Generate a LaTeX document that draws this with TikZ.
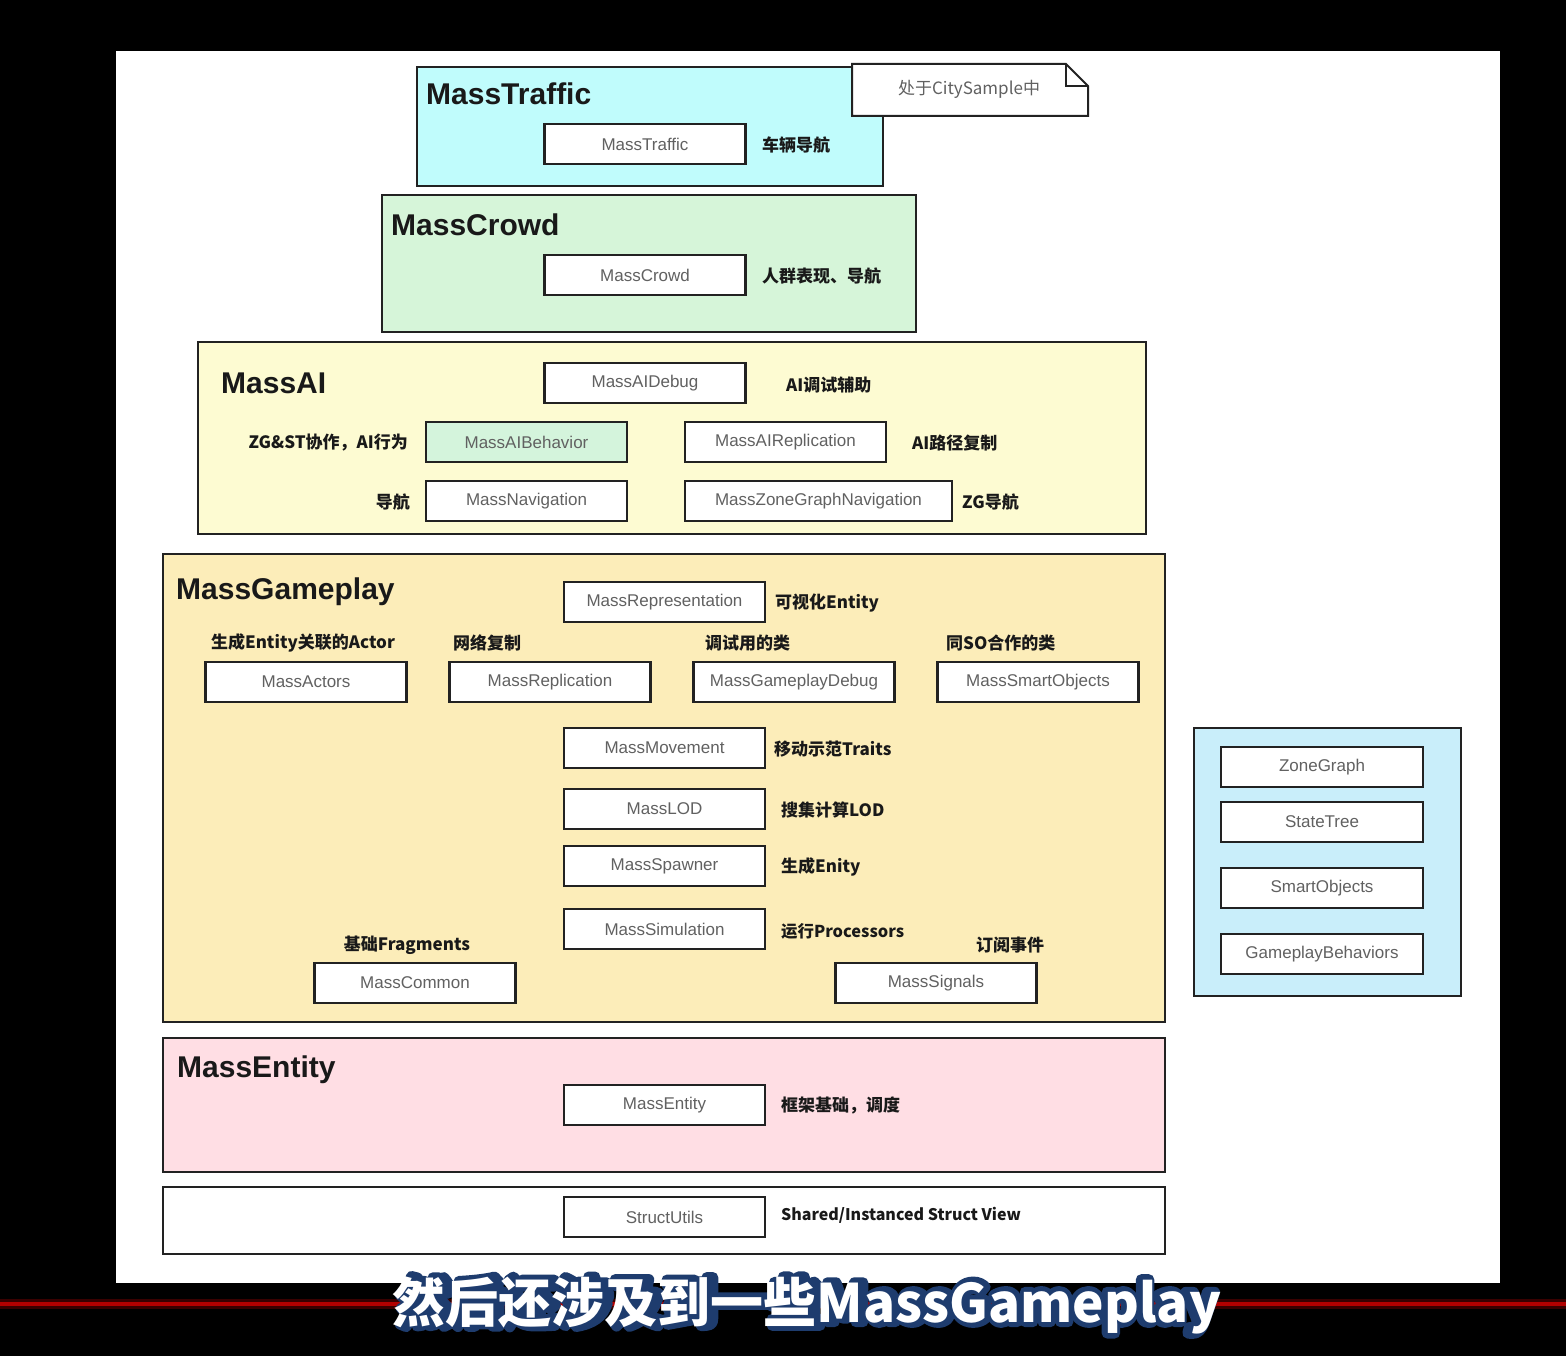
\documentclass[tikz,border=0pt]{standalone}
\usepackage{fontspec}
\setmainfont{Liberation Sans}
\newfontfamily\cjk{Noto Sans CJK SC}
\newfontfamily\subol{Noto Sans CJK SC}[UprightFont=* Bold, FakeBold=20]
\definecolor{cTraffic}{HTML}{C0FCFC}
\definecolor{cCrowd}{HTML}{D6F5D9}
\definecolor{cAI}{HTML}{FDFBD2}
\definecolor{cGameplay}{HTML}{FCEDB9}
\definecolor{cEntity}{HTML}{FFDEE4}
\definecolor{cRight}{HTML}{C9EEFA}
\definecolor{cBehav}{HTML}{D4F4DC}
\definecolor{subblue}{HTML}{1E3C6E}
\definecolor{edge}{HTML}{222222}
\begin{document}
\begin{tikzpicture}[x=1pt,y=-1pt]
\tikzset{
 grp/.style={draw=edge, line width=2pt, inner sep=0pt},
 modbox/.style={draw=edge, line width=2.2pt, fill=white, minimum width=201pt, minimum height=40pt, inner sep=0pt, text=black!62, font=\fontsize{17}{20}\selectfont},
 ttl/.style={anchor=west, inner sep=0pt, font=\fontsize{30}{36}\selectfont\bfseries, text=black!90},
 ann/.style={inner sep=0pt, font=\cjk\fontsize{17}{20}\selectfont\bfseries, text=black!90},
}
% background
\fill[black] (0,0) rectangle (1566,1356);
\fill[white] (116,51) rectangle (1500,1283);
\useasboundingbox (0,0) rectangle (1566,1356);

% ---------- MassTraffic ----------
\node[grp, fill=cTraffic, minimum width=466pt, minimum height=119pt] (gTraffic) at (650,126.5) {};
\node[ttl] (tTraffic) at (426,94) {MassTraffic};
\node[modbox] (mTraffic) at (645,144) {MassTraffic};
\node[ann, anchor=west] (aTraffic) at (762,145) {车辆导航};
% note
\draw[edge, line width=2pt, fill=white] (852,64) -- (1066,64) -- (1088,86) -- (1088,116) -- (852,116) -- cycle;
\draw[edge, line width=2pt] (1066,64) -- (1066,86) -- (1088,86);
\node[inner sep=0pt, font=\cjk\fontsize{17}{20}\selectfont, text=black!62] (note) at (969,89) {处于CitySample中};

% ---------- MassCrowd ----------
\node[grp, fill=cCrowd, minimum width=534pt, minimum height=137pt] (gCrowd) at (649,263.5) {};
\node[ttl] (tCrowd) at (391,225) {MassCrowd};
\node[modbox] (mCrowd) at (645,275) {MassCrowd};
\node[ann, anchor=west] (aCrowd) at (762,276) {人群表现、导航};

% ---------- MassAI ----------
\node[grp, fill=cAI, minimum width=948pt, minimum height=192pt] (gAI) at (672,438) {};
\node[ttl] (tAI) at (221,383) {MassAI};
\node[modbox] (mAIDebug) at (645,383) {MassAIDebug};
\node[ann, anchor=west] (aAIDebug) at (786,385) {AI调试辅助};
\node[modbox, fill=cBehav] (mAIBeh) at (526.5,442) {MassAIBehavior};
\node[ann, anchor=east] (aAIBeh) at (408,443) {ZG\&ST协作，AI行为};
\node[modbox] (mAIRep) at (785.5,442) {MassAIReplication};
\node[ann, anchor=west] (aAIRep) at (912,443) {AI路径复制};
\node[modbox] (mNav) at (526.5,501) {MassNavigation};
\node[ann, anchor=east] (aNav) at (410,502) {导航};
\node[modbox, minimum width=267pt] (mZGNav) at (818.5,501) {MassZoneGraphNavigation};
\node[ann, anchor=west] (aZGNav) at (962,502) {ZG导航};

% ---------- MassGameplay ----------
\node[grp, fill=cGameplay, minimum width=1002pt, minimum height=468pt] (gGameplay) at (664,788) {};
\node[ttl] (tGameplay) at (176,592) {MassGameplay};
\node[modbox] (mRep) at (664.5,602) {MassRepresentation};
\node[ann, anchor=west] (aRep) at (775,603) {可视化Entity};
\node[modbox] (mActors) at (306,682) {MassActors};
\node[ann] (aActors) at (303,643) {生成Entity关联的Actor};
\node[modbox] (mReplic) at (550,682) {MassReplication};
\node[ann, anchor=west] (aReplic) at (453,643) {网络复制};
\node[modbox] (mGPDebug) at (794,682) {MassGameplayDebug};
\node[ann, anchor=west] (aGPDebug) at (705,643) {调试用的类};
\node[modbox] (mSO) at (1038,682) {MassSmartObjects};
\node[ann, anchor=west] (aSO) at (946,643) {同SO合作的类};
\node[modbox] (mMove) at (664.5,748) {MassMovement};
\node[ann, anchor=west] (aMove) at (774,749) {移动示范Traits};
\node[modbox] (mLOD) at (664.5,809) {MassLOD};
\node[ann, anchor=west] (aLOD) at (781,810) {搜集计算LOD};
\node[modbox] (mSpawn) at (664.5,866) {MassSpawner};
\node[ann, anchor=west] (aSpawn) at (781,867) {生成Enity};
\node[modbox] (mSim) at (664.5,929) {MassSimulation};
\node[ann, anchor=west, font=\cjk\fontsize{16.4}{20}\selectfont\bfseries] (aSim) at (781,931) {运行Processors};
\node[modbox] (mCommon) at (415,983) {MassCommon};
\node[ann] (aCommon) at (407,945) {基础Fragments};
\node[modbox] (mSignals) at (936,983) {MassSignals};
\node[ann] (aSignals) at (1010,945) {订阅事件};

% ---------- MassEntity ----------
\node[grp, fill=cEntity, minimum width=1002pt, minimum height=134pt] (gEntity) at (664,1105) {};
\node[ttl] (tEntity) at (177,1070) {MassEntity};
\node[modbox] (mEntity) at (664.5,1105) {MassEntity};
\node[ann, anchor=west] (aEntity) at (781,1105) {框架基础，调度};

% ---------- StructUtils ----------
\node[grp, fill=white, minimum width=1002pt, minimum height=67pt] (gStruct) at (664,1220.5) {};
\node[modbox] (mStruct) at (664.5,1217) {StructUtils};
\node[ann, anchor=west, font=\cjk\fontsize{16}{20}\selectfont\bfseries] (aStruct) at (781,1215) {Shared/Instanced Struct View};

% ---------- right panel ----------
\node[grp, fill=cRight, minimum width=267pt, minimum height=268pt] (gRight) at (1327.5,862) {};
\node[modbox, minimum width=202pt] (mZG) at (1322,767) {ZoneGraph};
\node[modbox, minimum width=202pt] (mST) at (1322,822) {StateTree};
\node[modbox, minimum width=202pt] (mSmart) at (1322,888) {SmartObjects};
\node[modbox, minimum width=202pt] (mGB) at (1322,954) {GameplayBehaviors};

% ---------- subtitle ----------
\draw[red!45!black, line width=10pt, opacity=0.5] (0,1304) -- (1566,1304);
\draw[red!70!black, line width=4pt] (0,1304) -- (1566,1304);
\node[inner sep=0pt, text=subblue, font=\subol\fontsize{53}{60}\selectfont] (subo) at (807,1305) {\special{pdf:code 1 j}然后还涉及到一些MassGameplay};
\node[inner sep=0pt, text=white, font=\cjk\fontsize{53}{60}\selectfont\bfseries] (subt) at (807,1305) {然后还涉及到一些MassGameplay};
\end{tikzpicture}
\end{document}
